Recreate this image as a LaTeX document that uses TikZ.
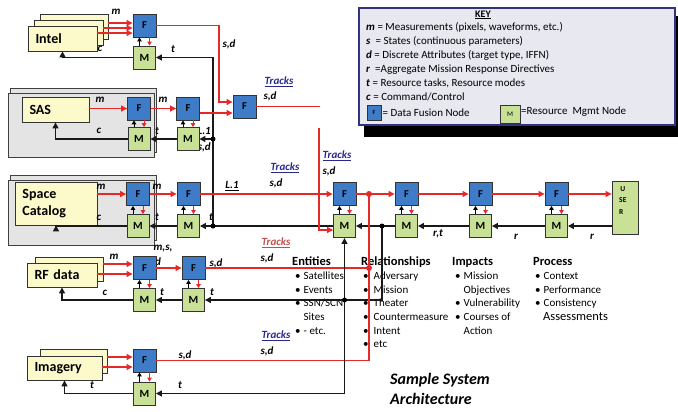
\documentclass[tikz,border=0pt]{standalone}
\usepackage{fontspec}
\setmainfont{Carlito}
\usetikzlibrary{arrows.meta}
\definecolor{fusblue}{RGB}{62,124,200}
\definecolor{mgmtgreen}{RGB}{200,225,150}
\definecolor{srcyellow}{RGB}{252,250,202}
\definecolor{panelgray}{RGB}{228,228,228}
\definecolor{keyfill}{RGB}{232,232,240}
\definecolor{keyline}{RGB}{50,50,130}
\definecolor{linered}{RGB}{230,40,40}
\definecolor{trackblue}{RGB}{40,40,140}
\definecolor{trackred}{RGB}{192,80,77}
\newcommand{\headf}{\bfseries\fontsize{12.5}{13.7}\selectfont}
\tikzset{
  fnode/.style={draw=black!80, fill=fusblue, line width=0.9pt, minimum width=23pt, minimum height=23pt, inner sep=0pt, font=\bfseries\fontsize{10.5}{10.5}\selectfont},
  mnode/.style={draw=black!80, fill=mgmtgreen, line width=0.9pt, minimum width=22pt, minimum height=23pt, inner sep=0pt, font=\bfseries\fontsize{11}{11}\selectfont},
  srcbox/.style={draw=black!80, fill=srcyellow, line width=0.8pt, inner xsep=7.5pt, inner ysep=0pt, align=left, font=\bfseries\fontsize{14}{17}\selectfont},
  panel/.style={draw=black!75, fill=panelgray, line width=0.8pt, inner sep=0pt},
  redln/.style={draw=linered, line width=1.1pt},
  redarr/.style={redln, -{Triangle[length=6pt,width=6pt]}},
  blkarr/.style={draw=black!90, line width=1.3pt, -{Triangle[length=6pt,width=6pt]}},
  upblk/.style={draw=black, line width=1pt, -{Triangle[length=4pt,width=4.5pt]}},
  dnred/.style={draw=linered, line width=1pt, -{Triangle[length=4pt,width=4.5pt]}},
  lbl/.style={font=\bfseries\itshape\fontsize{11}{12}\selectfont, inner sep=1pt},
  trk/.style={lbl, text=trackblue},
  listtxt/.style={font=\fontsize{11}{13.7}\selectfont, inner sep=0pt, anchor=north west},
  bdot/.style={circle, fill=black, inner sep=0pt, minimum size=5pt},
  rdot/.style={circle, fill=linered, inner sep=0pt, minimum size=6pt},
}
\begin{document}
\begin{tikzpicture}[x=1pt,y=-1pt]
\useasboundingbox (0,0) rectangle (678,412);

% key
\fill[black] (364,16) rectangle (678,137);
\node[draw=keyline, fill=keyfill, line width=1.2pt, minimum width=316pt, minimum height=117pt] (key) at (517,66.5) {};
\node[font=\bfseries\fontsize{10}{10}\selectfont] (keyttl) at (483,15) {\underline{KEY}};
\node[font=\fontsize{11}{14}\selectfont, inner sep=0pt, anchor=north west] (keylines) at (366,21) {\begin{tabular}{@{}l@{}}
\textbf{\textit{m}} = Measurements\ (pixels, waveforms, etc.)\\
\textbf{\textit{s}}\ \ = States (continuous parameters)\\
\textbf{\textit{d}} = Discrete Attributes (target type, IFFN)\\
\textbf{\textit{r}}\ \ =Aggregate Mission Response Directives\\
\textbf{\textit{t}} = Resource tasks, Resource modes\\
\textbf{\textit{c}} = Command/Control
\end{tabular}};
\node[fnode, minimum width=14pt, minimum height=15pt, font=\bfseries\fontsize{6}{6}\selectfont] (fkey) at (374,112.5) {F};
\node[font=\fontsize{11}{12}\selectfont, anchor=west, inner sep=1pt] (fkeytxt) at (fkey.east) {= Data Fusion Node};
\node[mnode, minimum width=20pt, minimum height=18pt, font=\fontsize{7}{7}\selectfont] (mkey) at (510,114) {M};
\node[font=\fontsize{11}{12}\selectfont, anchor=west, inner sep=1pt] (mkeytxt) at (520,112) {=Resource\ \ Mgmt Node};

% panels and sources
\node[panel, minimum width=146pt, minimum height=64pt] (sasbk) at (83,120) {};
\node[panel, minimum width=146pt, minimum height=64pt] (sasfr) at (81,125) {};
\node[panel, minimum width=146pt, minimum height=65pt] (spbk) at (83,207.5) {};
\node[panel, minimum width=146pt, minimum height=65pt] (spfr) at (81,212.5) {};
\node[srcbox, minimum width=68pt, minimum height=25pt] (intel3) at (74,26.5) {};
\node[srcbox, minimum width=69pt, minimum height=25pt] (intel2) at (68.5,32.5) {};
\node[srcbox, text width=54pt, minimum height=25pt] (intel) at (62.5,38.5) {Intel};
\node[srcbox, text width=52pt, minimum height=25pt] (sas) at (55.5,109.5) {SAS};
\node[srcbox, text width=67pt, minimum height=43pt] (space) at (56,203.5) {Space\\Catalog};
\node[srcbox, minimum width=68pt, minimum height=24pt] (rf2) at (69,269) {};
\node[srcbox, text width=55pt, minimum height=24pt] (rf) at (62,275) {RF data};
\node[srcbox, minimum width=67pt, minimum height=24pt] (img2) at (73.5,361) {};
\node[srcbox, text width=60pt, minimum height=24pt] (img) at (64.5,368) {Imagery};

% half hidden labels
\node[lbl, anchor=east] (lL1s) at (212,131) {L.1};
\node[lbl, anchor=east] (lsds) at (212,147) {s,d};
\node[lbl] (lmsr) at (163,249) {m,s,};
\node[lbl] (ldr) at (158,262) {d};

% text blocks
\node[listtxt] (ents) at (292,256) {\begin{tabular}{@{}l@{}}
{\headf Entities}\\
\hspace{3pt}\textbullet\hspace{3pt}Satellites\\
\hspace{3pt}\textbullet\hspace{3pt}Events\\
\hspace{3pt}\textbullet\hspace{3pt}SSN/SCN\\
\hspace{3pt}\phantom{\textbullet}\hspace{3pt}Sites\\
\hspace{3pt}\textbullet\hspace{3pt}- etc.
\end{tabular}};
\node[listtxt] (rels) at (361,256) {\begin{tabular}{@{}l@{}}
{\headf Relationships}\\
\hspace{2pt}\textbullet\hspace{5pt}Adversary\\
\hspace{2pt}\textbullet\hspace{5pt}Mission\\
\hspace{2pt}\textbullet\hspace{5pt}Theater\\
\hspace{2pt}\textbullet\hspace{5pt}Countermeasure\\
\hspace{2pt}\textbullet\hspace{5pt}Intent\\
\hspace{2pt}\textbullet\hspace{5pt}etc
\end{tabular}};
\node[listtxt] (imps) at (452,256) {\begin{tabular}{@{}l@{}}
{\headf Impacts}\\
\hspace{3pt}\textbullet\hspace{3pt}Mission\\
\hspace{3pt}\phantom{\textbullet}\hspace{3pt}Objectives\\
\hspace{3pt}\textbullet\hspace{3pt}Vulnerability\\
\hspace{3pt}\textbullet\hspace{3pt}Courses of\\
\hspace{3pt}\phantom{\textbullet}\hspace{3pt}Action
\end{tabular}};
\node[listtxt] (procs) at (533,256) {\begin{tabular}{@{}l@{}}
{\headf Process}\\
\hspace{2pt}\textbullet\hspace{3pt}Context\\
\hspace{2pt}\textbullet\hspace{3pt}Performance\\
\hspace{2pt}\textbullet\hspace{3pt}Consistency\\
\hspace{10pt}{\fontsize{12.5}{13.7}\selectfont Assessments}
\end{tabular}};
\node[font=\bfseries\itshape\fontsize{16}{20}\selectfont, align=left, anchor=north west, inner sep=0pt] (capt) at (390,373) {Sample System\\Architecture};

% fusion and mgmt nodes
\node[fnode] (fi) at (144.5,25.5) {F};
\node[mnode] (mi) at (144.5,57.5) {M};
\node[fnode] (fs1) at (139,108.5) {F};
\node[mnode] (ms1) at (139,139) {M};
\node[fnode] (fs2) at (188,108.5) {F};
\node[mnode] (ms2) at (188,139) {M};
\node[fnode] (ftk) at (244.5,106.5) {F};
\node[fnode] (fc1) at (138,194) {F};
\node[mnode] (mc1) at (138,226) {M};
\node[fnode] (fc2) at (188.5,194) {F};
\node[mnode] (mc2) at (188.5,226) {M};
\node[fnode] (fr1) at (144.5,268) {F};
\node[mnode] (mr1) at (144.5,300) {M};
\node[fnode] (fr2) at (193.5,268) {F};
\node[mnode] (mr2) at (193.5,300) {M};
\node[fnode] (fg) at (144.5,360.5) {F};
\node[mnode] (mg) at (144.5,393.5) {M};
\node[fnode] (fa1) at (344.5,194) {F};
\node[mnode] (ma1) at (344.5,226) {M};
\node[fnode] (fa2) at (406.5,194) {F};
\node[mnode] (ma2) at (406.5,226) {M};
\node[fnode] (fa3) at (480.5,194) {F};
\node[mnode] (ma3) at (480.5,226) {M};
\node[fnode] (fa4) at (556.5,194) {F};
\node[mnode] (ma4) at (556.5,226) {M};
\node[draw=black!80, fill=mgmtgreen, line width=0.9pt, minimum width=26pt, minimum height=53pt] (user) at (625,207.5) {};
\node[font=\bfseries\fontsize{7.5}{11.5}\selectfont, align=left, anchor=north west, inner sep=0pt] (usertxt) at (619,186) {\,U\\SE\\R};

\foreach \p in {i,s1,s2,c1,c2,r1,r2,g,a1,a2,a3,a4}{
  \draw[upblk] ([xshift=-5pt]m\p.north) -- ([xshift=-5pt]f\p.south);
  \draw[dnred] ([xshift=5pt]f\p.south) -- ([xshift=5pt]m\p.north);
}

\coordinate (busT) at (213,139);
\coordinate (busB) at (213,226);
\coordinate (busR) at (382,226);
\coordinate (busX) at (344.5,300);
\coordinate (trkTop) at (319,128);
\coordinate (tkEnd) at (320,106.5);
\coordinate (mrgTop) at (369,194);
\coordinate (mrgMid) at (369,268);

% Intel
\draw[redarr] (intel3.east |- 0,23) -- (fi.west |- 0,23);
\draw[redarr] (intel2.east |- 0,28) -- (fi.west |- 0,28);
\draw[redarr] (intel.east |- 0,33) -- (fi.west |- 0,33);
\draw[blkarr] (mi.west) -| (intel.south);
\draw[blkarr] (busB) |- (mi.east);
\draw[redarr] (fi.east) -| (219,102) -- (ftk.west |- 0,102);
\node[lbl] (lmi) at (116,12) {m};
\node[lbl] (lci) at (100,49) {c};
\node[lbl] (lti) at (173,49) {t};
\node[lbl] (lsdi) at (229,44) {s,d};

% SAS
\draw[redarr] (sas.east |- fs1) -- (fs1.west);
\draw[redarr] (fs1) -- (fs2);
\draw[redarr] (fs2.east |- 0,113) -- (ftk.west |- 0,113);
\draw[blkarr] (ms2) -- (ms1);
\draw[blkarr] (ms1.west) -| (sas.south);
\draw[blkarr] (busT) -- (ms2.east);
\draw[redln] (ftk.east) -- (tkEnd);
\node[lbl] (lms1) at (100,100) {m};
\node[lbl] (lms2) at (163,100) {m};
\node[lbl] (lcs) at (99,131) {c};
\node[lbl] (lts) at (157,131) {t};
\node[trk] (ltk1) at (279,82) {\underline{Tracks}};
\node[lbl] (lsdt1) at (270,96) {s,d};

% Space catalog
\draw[redarr] (space.east |- fc1) -- (fc1.west);
\draw[redarr] (fc1) -- (fc2);
\draw[redarr] (fc2) -- (fa1);
\draw[blkarr] (mc2) -- (mc1);
\draw[blkarr] (mc1.west) -| (space.south);
\draw[blkarr] (ma1.west) -- (mc2.east);
\node[lbl] (lmc1) at (101,187) {m};
\node[lbl] (lmc2) at (157,187) {m};
\node[lbl] (lcc) at (99,218) {c};
\node[lbl] (ltc1) at (157,217) {t};
\node[lbl] (ltc2) at (211,217) {t};
\node[lbl] (lL1c) at (232,186) {\underline{L.1}};
\node[trk] (ltk2) at (285,168) {\underline{Tracks}};
\node[lbl] (lsdt2) at (276,183) {s,d};

% fusion chain
\draw[redarr] (trkTop) |- (ma1.west |- 0,230);
\draw[redarr] (fa1) -- (fa2);
\draw[redarr] (fa2) -- (fa3);
\draw[redarr] (fa3) -- (fa4);
\draw[redarr] (fa4.east) -- (user.west |- fa4);
\draw[blkarr] (user.west |- ma4) -- (ma4.east);
\draw[blkarr] (ma4) -- (ma3);
\draw[blkarr] (ma3) -- (ma2);
\draw[blkarr] (ma2) -- (ma1);
\node[trk] (ltk3) at (337,156) {\underline{Tracks}};
\node[lbl] (lsdt3) at (329,171) {s,d};
\node[lbl] (lrt) at (438,234) {r,t};
\node[lbl] (lr1) at (516,237) {r};
\node[lbl] (lr2) at (592,237) {r};

% RF data
\draw[redarr] (rf2.east |- 0,264) -- (fr1.west |- 0,264);
\draw[redarr] (rf.east |- 0,274) -- (fr1.west |- 0,274);
\draw[redarr] (fr1) -- (fr2);
\draw[redln] (fr2.east) -- (mrgMid);
\draw[blkarr] (mr2) -- (mr1);
\draw[blkarr] (mr1.west) -| (rf.south);
\draw[blkarr] (busR) |- (mr2.east);
\node[lbl] (lmr) at (114,257) {m};
\node[lbl] (lsdr) at (216,263) {s,d};
\node[lbl] (lcr) at (105,293) {c};
\node[lbl] (ltr1) at (162,292) {t};
\node[lbl] (ltr2) at (212,292) {t};
\node[lbl, text=trackred] (ltk4) at (276,243) {\underline{Tracks}};
\node[lbl] (lsdt4) at (267,258) {s,d};

% Imagery
\draw[redarr] (img2.east |- 0,357) -- (fg.west |- 0,357);
\draw[redarr] (img.east |- 0,367) -- (fg.west |- 0,367);
\draw[redln] (fg.east) -| (mrgTop);
\draw[blkarr] (mg.west) -| (img.south);
\draw[blkarr, {Triangle[length=6pt,width=6pt]}-{Triangle[length=6pt,width=6pt]}] (ma1.south) |- (mg.east);
\node[lbl] (lsdg) at (185,355) {s,d};
\node[lbl] (ltg1) at (92,385) {t};
\node[lbl] (ltg2) at (180,385) {t};
\node[trk] (ltk5) at (276,336) {\underline{Tracks}};
\node[lbl] (lsdt5) at (267,351) {s,d};

% junctions
\node[bdot] (dT) at (busT) {};
\node[bdot] (dB) at (busB) {};
\node[bdot] (dR) at (busR) {};
\node[bdot] (dX) at (busX) {};
\node[rdot] (dM1) at (mrgTop) {};
\node[rdot] (dM2) at (mrgMid) {};
\end{tikzpicture}
\end{document}
